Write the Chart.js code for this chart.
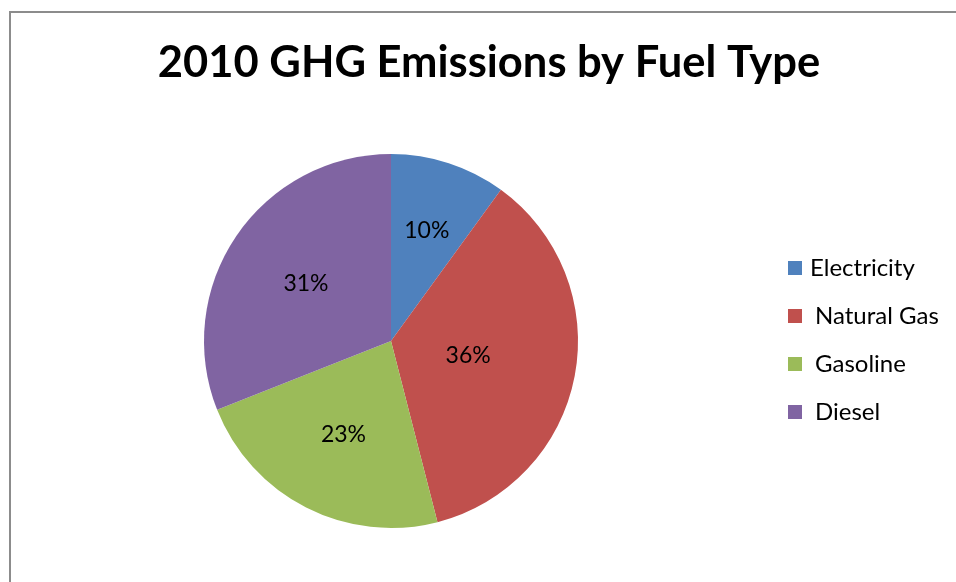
<!DOCTYPE html>
<html>
<head>
<meta charset="utf-8">
<script src="https://cdn.jsdelivr.net/npm/chart.js@4.4.0/dist/chart.umd.min.js"></script>
<style>
  html, body { margin: 0; padding: 0; background: #fff; }
  #wrap { position: relative; width: 956px; height: 582px; }
</style>
</head>
<body>
<div id="wrap"><canvas id="pieChart" width="956" height="582"></canvas></div>
<script>
// 2010 GHG emissions share by fuel type (%)
const fuelTypes = ['Electricity', 'Natural Gas', 'Gasoline', 'Diesel'];
const emissionShares = [10, 36, 23, 31];
const sliceColors = ['#4F81BD', '#C0504D', '#9BBB59', '#8064A2'];
const chartTitle = '2010 GHG Emissions by Fuel Type';

// how far out (fraction of radius) each percent label sits
const labelRadius = [0.62, 0.42, 0.56, 0.55];
const FONT = 'Lato, "Open Sans", sans-serif';

// frame, title, in-slice percentages and the right-hand legend
const decorations = {
    id: 'decorations',
    beforeDraw(chart) {
        const ctx = chart.ctx;
        ctx.save();
        ctx.strokeStyle = '#8c8c8c';
        ctx.lineWidth = 2;
        ctx.beginPath();
        ctx.moveTo(10, chart.height);
        ctx.lineTo(10, 12);
        ctx.lineTo(chart.width, 12);
        ctx.stroke();
        ctx.restore();
    },
    afterDraw(chart) {
        const ctx = chart.ctx;
        const meta = chart.getDatasetMeta(0);
        ctx.save();

        ctx.fillStyle = '#000';
        ctx.font = 'bold 43.5px ' + FONT;
        ctx.textAlign = 'center';
        ctx.textBaseline = 'middle';
        ctx.fillText(chartTitle, 489, 63);

        ctx.font = '23px ' + FONT;
        meta.data.forEach((arc, i) => {
            const p = arc.getProps(['x', 'y', 'startAngle', 'endAngle', 'outerRadius'], true);
            const mid = (p.startAngle + p.endAngle) / 2;
            const r = p.outerRadius * labelRadius[i];
            ctx.fillText(emissionShares[i] + '%', p.x + Math.cos(mid) * r, p.y + Math.sin(mid) * r);
        });

        ctx.font = '24px ' + FONT;
        ctx.textAlign = 'left';
        fuelTypes.forEach((name, i) => {
            const y = 268 + i * 48;
            ctx.fillStyle = sliceColors[i];
            ctx.fillRect(788, y - 7, 14, 14);
            ctx.fillStyle = '#000';
            ctx.fillText(name, i === 0 ? 810 : 815, y);
        });
        ctx.restore();
    }
};

const ctx = document.getElementById('pieChart').getContext('2d');
new Chart(ctx, {
    type: 'pie',
    data: {
        labels: fuelTypes,
        datasets: [{
            data: emissionShares,
            backgroundColor: sliceColors,
            borderWidth: 0
        }]
    },
    options: {
        responsive: false,
        animation: false,
        layout: {
            padding: { left: 204, right: 378, top: 154, bottom: 54 }
        },
        plugins: {
            legend: { display: false },
            title: { display: false },
            tooltip: { enabled: false }
        }
    },
    plugins: [decorations]
});
</script>
</body>
</html>
